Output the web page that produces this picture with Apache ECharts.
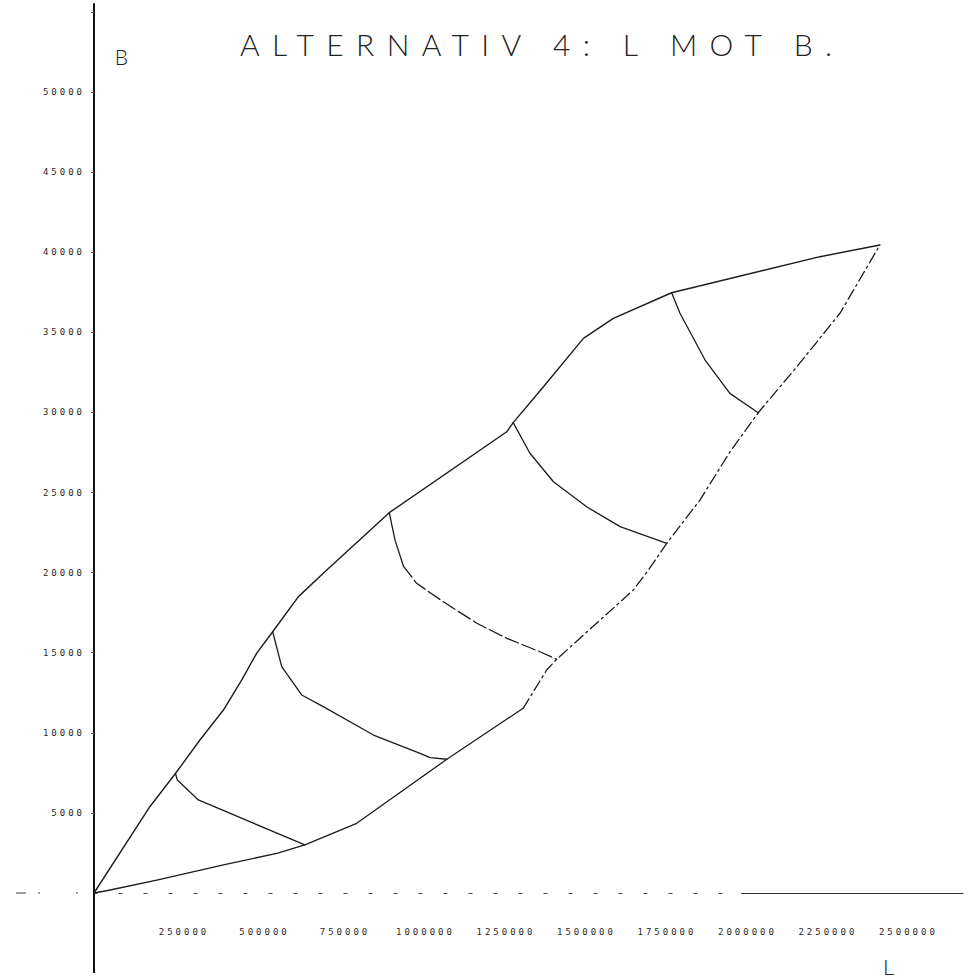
<!DOCTYPE html>
<html>
<head>
<meta charset="utf-8">
<script src="https://cdn.jsdelivr.net/npm/echarts@6/dist/echarts.min.js"></script>
<style>
  html, body { margin: 0; padding: 0; background: #ffffff; }
  #chart { width: 969px; height: 979px; }
  /* plotter lettering: wide character pitch */
  #chart text { letter-spacing: 3px; }
</style>
</head>
<body>
<div id="chart"></div>
<script>
// Tick labels
const xTickLabels = ['250000', '500000', '750000', '1000000', '1250000',
                     '1500000', '1750000', '2000000', '2250000', '2500000'];
const yTickLabels = ['5000', '10000', '15000', '20000', '25000',
                     '30000', '35000', '40000', '45000', '50000'];

// Outer boundary, upper side  [L, B]
const upperEdge = [
  [0, 0], [174000, 5400], [253000, 7460], [329000, 9550], [402000, 11420],
  [459000, 13300], [505000, 14960], [555000, 16310], [635000, 18500],
  [723000, 20160], [917000, 23740], [1282000, 28790], [1302000, 29360],
  [1396000, 31600], [1520000, 34620], [1613000, 35870], [1794000, 37470],
  [2255000, 39720], [2441000, 40450]
];

// Outer boundary, lower side  [L, B]
const lowerEdge = [
  [0, 0], [39000, 140], [195000, 810], [402000, 1750], [568000, 2480],
  [655000, 3000], [816000, 4350], [1096000, 8350], [1333000, 11530],
  [1406000, 13920], [1437000, 14590], [1561000, 16840], [1675000, 18910],
  [1722000, 20160], [1779000, 21830], [1882000, 24530], [1975000, 27530],
  [2063000, 29980], [2183000, 32850], [2317000, 36190], [2441000, 40450]
];

// Transverse curves from the upper to the lower boundary  [L, B]
const cross1 = [[253000, 7460], [259000, 7050], [324000, 5810], [655000, 3000]];
const cross2 = [[555000, 16310], [583000, 14130], [645000, 12360], [712000, 11630],
                [868000, 9860], [1013000, 8720], [1044000, 8450], [1096000, 8350]];
const cross3 = [[917000, 23740], [935000, 22030], [961000, 20410], [1002000, 19330],
                [1085000, 18180], [1189000, 16840], [1282000, 15900], [1385000, 15060],
                [1437000, 14590]];
const cross4 = [[1302000, 29360], [1354000, 27450], [1427000, 25670], [1530000, 24110],
                [1634000, 22870], [1779000, 21830]];
const cross5 = [[1794000, 37470], [1820000, 36190], [1898000, 33270], [1975000, 31190],
                [2063000, 29980]];

// How many leading points of a curve are drawn with an unbroken pen
const lowerSolidCount = 9;
const cross3SolidCount = 3;

const titleText = 'ALTERNATIV 4: L MOT B.';
const titleLeft = 240;
const titleSpan = 592;

const ink = '#1c1c1c';
const xLabelSet = new Set(xTickLabels);
const yLabelSet = new Set(yTickLabels);

function curve(name, data, width, dash) {
  return {
    type: 'line',
    name: name,
    data: data,
    symbol: 'none',
    showSymbol: false,
    silent: true,
    z: 3,
    lineStyle: { color: ink, width: width, type: dash || 'solid', cap: 'round', join: 'round' }
  };
}

const lowerSolid = curve('lower', lowerEdge.slice(0, lowerSolidCount), 1.3);
const lowerBroken = curve('lower-broken', lowerEdge.slice(lowerSolidCount - 1), 1.3, [11, 4, 2, 4]);
// the plotted baseline becomes a continuous stroke towards the right end
lowerSolid.markLine = {
  symbol: ['none', 'none'],
  silent: true,
  label: { show: false },
  lineStyle: { color: '#333', width: 1.2, type: 'solid' },
  data: [[{ coord: [2010000, 0] }, { coord: [2700000, 0] }]]
};

const labelText = {
  fontFamily: 'DejaVu Sans Mono',
  fontSize: 9,
  color: '#2a2a2a'
};

const chart = echarts.init(document.getElementById('chart'), null, { renderer: 'svg' });

chart.setOption({
  animation: false,
  backgroundColor: '#ffffff',
  grid: { left: 94, right: 5.7, top: 3.9, bottom: 86, containLabel: false, outerBoundsMode: 'none' },
  xAxis: {
    type: 'value',
    min: 0,
    max: 2700000,
    interval: 250000,
    axisLine: { onZero: false, lineStyle: { color: '#444', width: 1.2, type: [3, 22] } },
    axisTick: { show: false },
    splitLine: { show: false },
    axisLabel: Object.assign({
      margin: 34,
      showMinLabel: false,
      showMaxLabel: false,
      padding: [0, 0, 0, 19],
      formatter: function (v) { return xLabelSet.has(String(v)) ? String(v) : ''; }
    }, labelText)
  },
  yAxis: {
    type: 'value',
    min: 0,
    max: 55500,
    interval: 5000,
    axisLine: { onZero: false, lineStyle: { color: '#111', width: 2 } },
    axisTick: { show: true, length: 3, lineStyle: { color: '#666', width: 1 } },
    splitLine: { show: false },
    axisLabel: Object.assign({
      margin: 9,
      showMinLabel: false,
      showMaxLabel: false,
      formatter: function (v) { return yLabelSet.has(String(v)) ? String(v) : ''; }
    }, labelText)
  },
  graphic: [
    {
      id: 'title', type: 'text', x: titleLeft, y: 44, silent: true,
      style: { text: titleText, font: '300 30px Lato', fill: '#222',
               textAlign: 'left', textVerticalAlign: 'middle' }
    },
    {
      id: 'nameB', type: 'text', x: 123, y: 56, silent: true,
      style: { text: 'B', font: '300 21px Lato', fill: '#222',
               textAlign: 'center', textVerticalAlign: 'middle' }
    },
    {
      id: 'nameL', type: 'text', x: 890, y: 966, silent: true,
      style: { text: 'L', font: '300 22px Lato', fill: '#222',
               textAlign: 'center', textVerticalAlign: 'middle' }
    }
  ],
  series: [
    curve('upper', upperEdge, 1.4),
    lowerSolid,
    lowerBroken,
    curve('cross1', cross1, 1.3),
    curve('cross2', cross2, 1.3),
    curve('cross3', cross3.slice(0, cross3SolidCount), 1.3),
    curve('cross3-broken', cross3.slice(cross3SolidCount - 1), 1.3, [14, 4]),
    curve('cross4', cross4, 1.3),
    curve('cross5', cross5, 1.3)
  ]
});

// Both axes run on past the origin: the B axis down below the baseline,
// the L axis out to the left of the B axis.
const origin = chart.convertToPixel({ xAxisIndex: 0, yAxisIndex: 0 }, [0, 0]);
chart.setOption({
  graphic: [
    {
      id: 'bAxisTail', type: 'line', silent: true,
      shape: { x1: origin[0], y1: origin[1], x2: origin[0], y2: origin[1] + 80 },
      style: { stroke: '#111', lineWidth: 2 }
    },
    {
      id: 'lAxisTail', type: 'line', silent: true,
      shape: { x1: origin[0] - 78, y1: origin[1], x2: origin[0], y2: origin[1] },
      style: { stroke: '#444', lineWidth: 1.2, lineDash: [10, 12, 2, 36, 2, 20] }
    }
  ]
});

// Spread the heading letters over the plotter's character pitch
function spaceTitle() {
  document.querySelectorAll('#chart text').forEach(function (t) {
    if (t.textContent === titleText) {
      t.style.letterSpacing = '0px';
      const w = t.getComputedTextLength();
      const s = (titleSpan - w) / (titleText.length - 1);
      t.style.letterSpacing = s.toFixed(2) + 'px';
    }
  });
}
spaceTitle();
chart.on('finished', spaceTitle);
</script>
</body>
</html>
